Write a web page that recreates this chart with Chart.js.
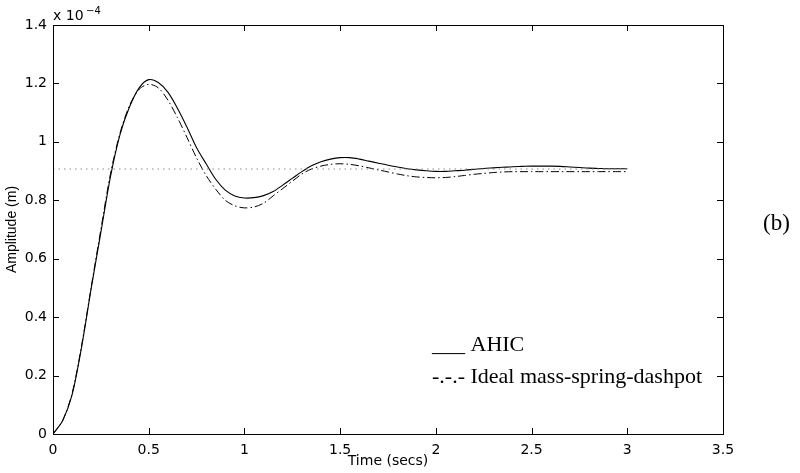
<!DOCTYPE html>
<html>
<head>
<meta charset="utf-8">
<script src="https://cdn.jsdelivr.net/npm/chart.js@4.4.1/dist/chart.umd.min.js"></script>
<style>
  html, body { margin: 0; padding: 0; background: #fff; }
  #wrap { width: 800px; height: 473px; }
</style>
</head>
<body>
<div id="wrap"><canvas id="chart" width="800" height="473"></canvas></div>
<script>
// time axis (secs) and amplitudes in units of 1e-4 m
var timeSecs = [0, 0.05, 0.1, 0.15, 0.2, 0.25, 0.3, 0.35, 0.4, 0.45, 0.5, 0.55, 0.6, 0.65, 0.7, 0.75,
    0.8, 0.85, 0.9, 0.95, 1.0, 1.05, 1.1, 1.15, 1.2, 1.25, 1.3, 1.35, 1.4, 1.45, 1.5, 1.55,
    1.6, 1.65, 1.7, 1.75, 1.8, 1.85, 1.9, 1.95, 2.0, 2.05, 2.1, 2.15, 2.2, 2.25, 2.3, 2.35,
    2.4, 2.45, 2.5, 2.55, 2.6, 2.65, 2.7, 2.75, 2.8, 2.85, 2.9, 2.95, 3.0];
var ahic = [0, 0.045, 0.135, 0.30, 0.50, 0.69, 0.88, 1.025, 1.12, 1.185, 1.213, 1.203, 1.17, 1.115, 1.05, 0.98,
    0.925, 0.872, 0.835, 0.815, 0.808, 0.809, 0.816, 0.83, 0.852, 0.875, 0.898, 0.918, 0.932, 0.941, 0.946, 0.946,
    0.941, 0.934, 0.927, 0.92, 0.914, 0.908, 0.904, 0.901, 0.899, 0.899, 0.901, 0.903, 0.906, 0.909, 0.911, 0.913,
    0.915, 0.916, 0.917, 0.917, 0.917, 0.916, 0.914, 0.912, 0.910, 0.909, 0.908, 0.908, 0.908];
var ideal = [0, 0.045, 0.14, 0.305, 0.505, 0.70, 0.89, 1.03, 1.125, 1.18, 1.197, 1.185, 1.143, 1.083, 1.015, 0.945,
    0.885, 0.838, 0.80, 0.781, 0.774, 0.777, 0.79, 0.815, 0.84, 0.865, 0.89, 0.907, 0.917, 0.923, 0.925, 0.923,
    0.918, 0.911, 0.904, 0.897, 0.89, 0.884, 0.88, 0.878, 0.877, 0.878, 0.881, 0.885, 0.889, 0.892, 0.895, 0.897,
    0.898, 0.898, 0.898, 0.898, 0.898, 0.898, 0.898, 0.898, 0.898, 0.898, 0.898, 0.898, 0.898];
var steadyTime = [0, 3.0];
var steadyValue = [0.907, 0.907];
var xTicks = [0, 0.5, 1, 1.5, 2, 2.5, 3, 3.5];
var yTicks = [0, 0.2, 0.4, 0.6, 0.8, 1.0, 1.2, 1.4];
var legendLabels = ['___ AHIC', '-.-.- Ideal mass-spring-dashpot'];

function pts(xs, ys) {
    return xs.map(function (x, i) { return { x: x, y: ys[i] }; });
}
function fmt(v) { return String(+(+v).toFixed(2)); }

// MATLAB style box with inward ticks on all four sides, plus the free text
var boxPlugin = {
    id: 'boxPlugin',
    afterDraw: function (chart) {
        var ctx = chart.ctx, a = chart.chartArea, sx = chart.scales.x, sy = chart.scales.y;
        var tl = 6;
        ctx.save();
        ctx.strokeStyle = '#000';
        ctx.lineWidth = 1;
        ctx.strokeRect(Math.round(a.left) + 0.5, Math.round(a.top) + 0.5,
            Math.round(a.right - a.left), Math.round(a.bottom - a.top));
        ctx.beginPath();
        xTicks.forEach(function (t) {
            var px = Math.round(sx.getPixelForValue(t)) + 0.5;
            ctx.moveTo(px, a.bottom); ctx.lineTo(px, a.bottom - tl);
            ctx.moveTo(px, a.top); ctx.lineTo(px, a.top + tl);
        });
        yTicks.forEach(function (t) {
            var py = Math.round(sy.getPixelForValue(t)) + 0.5;
            ctx.moveTo(a.left, py); ctx.lineTo(a.left + tl, py);
            ctx.moveTo(a.right, py); ctx.lineTo(a.right - tl, py);
        });
        ctx.stroke();

        ctx.fillStyle = '#000';
        ctx.textBaseline = 'alphabetic';
        ctx.textAlign = 'left';
        ctx.font = '14px "DejaVu Sans"';
        ctx.fillText('x 10', a.left, a.top - 5);
        ctx.font = '10px "DejaVu Sans"';
        ctx.fillText('\u22124', a.left + 33, a.top - 11);

        ctx.font = '22px "Liberation Serif"';
        ctx.fillText(legendLabels[0], 432, 351);
        ctx.fillText(legendLabels[1], 432, 383);
        ctx.font = '23px "Liberation Serif"';
        ctx.fillText('(b)', 763, 230);
        ctx.restore();
    }
};

new Chart(document.getElementById('chart'), {
    type: 'line',
    data: {
        datasets: [
            { label: 'steady', data: pts(steadyTime, steadyValue), borderColor: '#8a8a8a',
                borderWidth: 1, borderDash: [1.5, 4], pointRadius: 0, fill: false },
            { label: 'Ideal mass-spring-dashpot', data: pts(timeSecs, ideal), borderColor: '#000',
                borderWidth: 1, borderDash: [8, 3, 1.5, 3], pointRadius: 0, tension: 0.3, fill: false },
            { label: 'AHIC', data: pts(timeSecs, ahic), borderColor: '#000',
                borderWidth: 1.1, pointRadius: 0, tension: 0.3, fill: false }
        ]
    },
    options: {
        responsive: false,
        animation: false,
        layout: { padding: { top: 25, right: 77, left: 0, bottom: 0 } },
        plugins: { legend: { display: false }, tooltip: { enabled: false } },
        scales: {
            x: {
                type: 'linear', min: 0, max: 3.5,
                afterFit: function (s) { s.height = 39; },
                afterBuildTicks: function (s) { s.ticks = xTicks.map(function (v) { return { value: v }; }); },
                grid: { display: false, drawTicks: false },
                border: { display: false },
                ticks: { color: '#000', padding: 8, maxRotation: 0, autoSkip: false,
                    font: { family: 'DejaVu Sans', size: 14 }, callback: fmt },
                title: { display: true, text: 'Time (secs)', color: '#000',
                    font: { family: 'DejaVu Sans', size: 14 }, padding: { top: 0, bottom: 3 } }
            },
            y: {
                min: 0, max: 1.4,
                afterFit: function (s) { s.width = 53; },
                afterBuildTicks: function (s) { s.ticks = yTicks.map(function (v) { return { value: v }; }); },
                grid: { display: false, drawTicks: false },
                border: { display: false },
                ticks: { color: '#000', padding: 6, autoSkip: false,
                    font: { family: 'DejaVu Sans', size: 14 }, callback: fmt },
                title: { display: true, text: 'Amplitude (m)', color: '#000',
                    font: { family: 'Liberation Sans', size: 14 }, padding: { top: 4, bottom: 0 } }
            }
        }
    },
    plugins: [boxPlugin]
});
</script>
</body>
</html>
